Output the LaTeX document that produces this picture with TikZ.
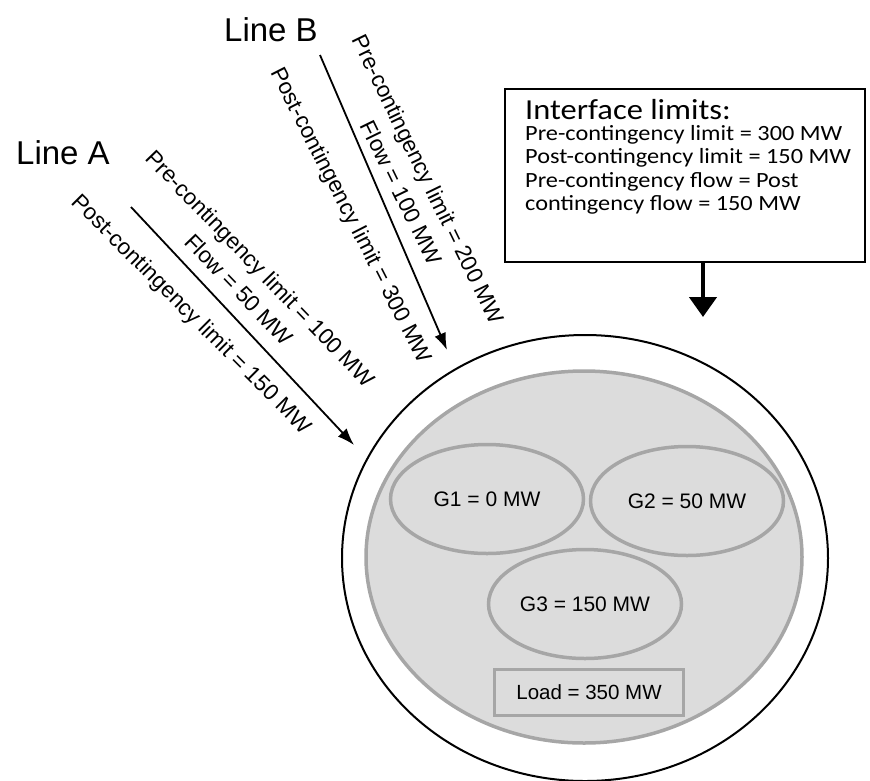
\documentclass[tikz,border=0pt]{standalone}
\usepackage{fontspec}
\setmainfont{Liberation Sans}
\newfontfamily\calfont[FakeStretch=1.12]{Carlito}
\usetikzlibrary{arrows.meta,shapes.geometric}
\definecolor{gfill}{HTML}{DCDCDC}
\definecolor{gline}{HTML}{A6A6A6}
\begin{document}
\begin{tikzpicture}[x=1pt,y=-1pt,
  gen/.style={ellipse, draw=gline, line width=3.5pt, minimum width=193pt, minimum height=109pt, inner sep=0pt, font=\fontsize{21}{24}\selectfont},
  loadbox/.style={rectangle, draw=gline, line width=3.5pt, minimum width=189pt, minimum height=46pt, inner sep=0pt, font=\fontsize{20.5}{24}\selectfont},
  linelabel/.style={font=\fontsize{33}{38}\selectfont, inner sep=0pt},
  rotlabel/.style={font=\fontsize{22.5}{30}\selectfont, align=center, inner sep=0pt},
  arr/.style={line width=1.8pt, -{Latex[length=17pt,width=12pt]}},
  bigarr/.style={line width=4.5pt, -{Triangle[length=20pt,width=27pt]}},
  ]
\useasboundingbox (0,0) rectangle (870,780);
% outer region
\node[ellipse, draw=black, line width=2pt, minimum width=486pt, minimum height=446pt, inner sep=0pt] (outer) at (585,558) {};
\node[ellipse, draw=gline, fill=gfill, line width=3.5pt, minimum width=436pt, minimum height=372pt, inner sep=0pt] (inner) at (584,557) {};
% generators and load
\node[gen] (g1) at (487,499) {G1 = 0 MW};
\node[gen] (g2) at (687,501) {G2 = 50 MW};
\node[gen] (g3) at (585,604) {G3 = 150 MW};
\node[loadbox] (load) at (589,692.5) {Load = 350 MW};
% line labels
\node[linelabel] (lineA) at (63,153) {Line A};
\node[linelabel] (lineB) at (271,30) {Line B};
% Line A arrow and labels
\coordinate (aS) at (131,207);
\coordinate (aE) at (354,445);
\draw[arr] (aS) -- (aE);
\node[rotlabel, rotate=-46] (preA) at (250,279) {Pre-contingency limit = 100 MW\\Flow = 50 MW};
\node[rotlabel, rotate=-45] (postA) at (191,315) {Post-contingency limit = 150 MW};
% Line B arrow and labels
\coordinate (bS) at (320,55);
\coordinate (bE) at (447,350);
\draw[arr] (bS) -- (bE);
\node[rotlabel, rotate=-64] (preB) at (415,186) {Pre-contingency limit = 200 MW\\Flow = 100 MW};
\node[rotlabel, rotate=-63] (postB) at (350,216) {Post-contingency limit = 300 MW};
% Interface box
\node[draw=black, line width=2pt, minimum width=360pt, minimum height=173pt, inner sep=0pt] (ibox) at (685,175.5) {};
\node[anchor=base west, inner sep=0pt, font=\calfont\fontsize{29}{32}\selectfont] (ititle) at (525,119) {Interface limits:};
\node[anchor=north west, inner sep=0pt, align=left, font=\calfont\fontsize{21.7}{23.5}\selectfont] (itext) at (525,125) {Pre-contingency limit = 300 MW\\Post-contingency limit = 150 MW\\Pre-contingency flow = Post\\contingency flow = 150 MW};
\coordinate (iE) at (703,317);
\draw[bigarr] (ibox.south -| iE) -- (iE);
\end{tikzpicture}
\end{document}
